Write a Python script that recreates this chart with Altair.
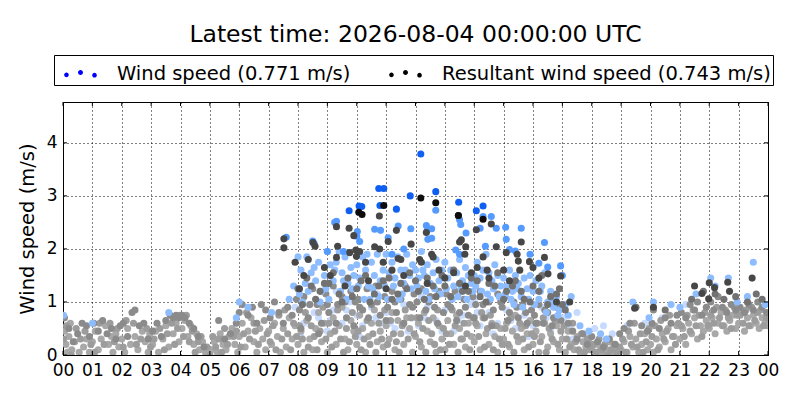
import altair as alt
import pandas as pd

# ---------------- data (hour of day, wind speed m/s) ----------------
PALE_BLUE = [(7.9,0.9),(8.2,0.6),(8.4,0.95),(8.7,0.7),(9.0,0.45),(9.2,0.85),(9.5,0.6),(9.75,1.0),(10.0,0.75),(10.2,0.55),
             (10.5,0.9),(10.8,0.6),(11.0,0.8),(11.3,0.5),(11.6,0.95),(11.9,0.7),(12.1,0.55),(12.4,0.9),(12.7,0.65),(13.0,0.85),
             (13.3,0.45),(13.6,0.75),(13.9,0.95),(14.2,0.55),(14.5,0.8),(14.8,0.6),(15.1,0.85),(15.4,0.5),(15.7,0.75),(16.0,0.55),
             (16.3,0.9),(16.6,0.45),(16.9,0.7),(17.2,0.5),(17.5,0.8),(17.8,0.35),(18.1,0.5),(18.7,0.4),(19.2,0.55),(19.8,0.6),
             (20.4,0.7),(21.2,0.95),(9.3,1.2),(10.7,1.15),(12.2,1.1),(14.0,1.05),
             (8.1,0.35),(8.55,0.8),(9.1,0.65),(9.65,0.85),(10.1,0.35),(10.65,0.7),(11.15,0.6),(11.75,0.45),(12.3,0.7),(12.9,0.45),
             (13.45,0.65),(14.1,0.8),(14.65,0.4),(15.25,0.65),(15.85,0.35),(16.45,0.7),(17.05,0.7),(17.35,0.3),(18.0,0.2),(18.4,0.55)]

LIGHT_BLUE = [(7.85,1.3),(8.0,1.85),(8.1,1.6),(8.25,1.35),(8.3,1.85),(8.45,1.55),(8.6,1.4),(8.7,1.75),(8.8,1.2),(8.9,1.5),(7.7,1.05),(8.15,1.0),
              (9.0,1.95),(9.1,1.7),(9.2,1.4),(9.3,1.75),(9.4,1.95),(9.5,1.55),(9.6,1.85),(9.7,1.35),(9.8,1.65),(9.9,1.5),(9.45,1.2),
              (10.0,1.7),(10.1,1.45),(10.2,1.85),(10.3,1.6),(10.4,1.3),(10.5,1.75),(10.6,1.5),(10.7,1.9),(10.8,1.4),(10.9,1.6),(10.45,1.05),
              (11.0,1.9),(11.1,1.55),(11.2,1.75),(11.3,1.45),(11.4,1.85),(11.5,1.6),(11.6,1.35),(11.7,1.9),(11.8,1.5),(11.9,1.7),(11.55,1.15),
              (12.0,1.6),(12.1,1.45),(12.2,1.95),(12.3,1.5),(12.4,1.7),(12.5,1.35),(12.6,1.55),(12.7,1.8),(12.8,1.4),(12.9,1.6),(12.35,1.2),
              (13.0,1.75),(13.1,1.45),(13.2,1.6),(13.3,1.3),(13.4,1.55),(13.5,1.8),(13.6,1.4),(13.7,1.65),(13.8,1.5),(13.9,1.35),(13.45,1.1),
              (14.0,1.5),(14.1,1.75),(14.2,1.45),(14.3,1.6),(14.4,1.9),(14.5,1.55),(14.6,1.4),(14.7,1.7),(14.8,1.5),(14.9,1.3),(14.45,1.15),
              (15.0,1.45),(15.1,1.3),(15.2,1.6),(15.3,1.2),(15.4,1.5),(15.5,1.35),(15.6,1.1),(15.7,1.45),(15.8,1.25),(15.9,1.5),(15.35,0.95),
              (16.0,1.2),(16.1,1.4),(16.2,1.05),(16.3,1.3),(16.4,1.55),(16.5,1.0),(16.6,1.2),(16.7,0.9),(16.8,1.1),(16.9,0.85),
              (17.1,0.95),(17.3,1.1),(17.2,0.75),(17.6,0.55),(17.9,0.45),(18.3,0.4),(18.5,0.3),(19.4,1.0),(19.95,0.7),(20.1,1.0),
              (20.7,0.95),(21.55,1.15),(22.05,1.45),(22.2,1.3),(22.65,1.45),(23.3,1.1),(23.5,1.75),(23.9,0.95),(21.0,0.9),(22.95,1.0),
              (0.02,0.75),(1.0,0.6),(3.6,0.8),(6.0,1.0),(6.3,0.9),(7.1,0.8),(5.9,0.7),
              (8.05,1.15),(8.35,1.2),(8.55,1.65),(8.75,1.0),(8.95,1.25),(9.05,1.05),(9.25,1.6),(9.55,1.4),(9.65,1.05),(9.85,1.25),
              (10.05,1.3),(10.25,1.05),(10.35,1.9),(10.55,1.25),(10.75,1.1),(10.95,1.3),(11.05,1.05),(11.25,1.3),(11.45,1.05),(11.65,1.6),
              (11.85,1.25),(12.05,1.3),(12.25,1.6),(12.45,1.05),(12.65,1.25),(12.85,1.15),(13.05,1.25),(13.25,1.05),(13.55,1.25),(13.75,1.05),
              (13.95,1.2),(14.05,1.3),(14.25,1.2),(14.55,1.05),(14.65,1.25),(14.85,1.1),(15.05,1.15),(15.25,1.05),(15.45,1.25),(15.65,0.9),
              (15.85,1.05),(16.05,0.95),(16.25,1.2),(16.45,0.8),(16.65,1.0),(16.85,0.75)]

GRAY_LIGHT = [(0.05,0.45),(0.1,0.2),(0.15,0.05),(0.2,0.35),(0.3,0.1),(0.4,0.25),(0.55,0.05),(0.7,0.15),(0.8,0.3),(0.9,0.05),(0.25,0.6),
              (1.0,0.25),(1.1,0.45),(1.2,0.1),(1.3,0.3),(1.45,0.55),(1.55,0.2),(1.7,0.05),(1.8,0.4),(1.9,0.15),(1.65,0.35),
              (2.0,0.3),(2.1,0.05),(2.2,0.5),(2.3,0.2),(2.45,0.35),(2.55,0.1),(2.7,0.45),(2.8,0.25),(2.9,0.05),(2.95,0.4),
              (3.05,0.2),(3.15,0.45),(3.25,0.05),(3.4,0.3),(3.5,0.55),(3.6,0.15),(3.75,0.4),(3.85,0.6),(3.95,0.25),
              (4.05,0.5),(4.15,0.65),(4.25,0.35),(4.35,0.55),(4.45,0.2),(4.55,0.4),(4.65,0.1),(4.75,0.25),(4.85,0.05),(4.95,0.0),
              (5.05,0.1),(5.15,0.25),(5.25,0.05),(5.35,0.4),(5.45,0.2),(5.55,0.1),(5.65,0.35),(5.75,0.5),(5.85,0.2),(5.95,0.05),
              (6.0,0.35),(6.1,0.6),(6.2,0.15),(6.3,0.45),(6.4,0.7),(6.5,0.25),(6.6,0.05),(6.7,0.5),(6.8,0.3),(6.9,0.1),
              (7.0,0.45),(7.1,0.2),(7.2,0.6),(7.3,0.35),(7.4,0.05),(7.5,0.5),(7.6,0.15),(7.7,0.7),(7.8,0.3),(7.9,0.55),
              (8.0,0.2),(8.1,0.45),(8.2,0.05),(8.3,0.65),(8.4,0.3),(8.5,0.1),(8.6,0.5),(8.7,0.8),(8.8,0.25),(8.9,0.6),
              (9.0,0.05),(9.1,0.4),(9.2,0.7),(9.3,0.2),(9.4,0.55),(9.5,0.9),(9.6,0.3),(9.7,0.1),(9.8,0.65),(9.9,0.45),
              (10.0,0.2),(10.1,0.75),(10.2,0.5),(10.3,0.05),(10.4,0.35),(10.5,0.6),(10.6,0.85),(10.7,0.25),(10.8,0.45),(10.9,0.15),
              (11.0,0.55),(11.1,0.3),(11.2,0.8),(11.3,0.1),(11.4,0.65),(11.5,0.4),(11.6,0.2),(11.7,0.7),(11.8,0.5),(11.9,0.05),
              (12.0,0.35),(12.1,0.6),(12.2,0.15),(12.3,0.8),(12.4,0.45),(12.5,0.25),(12.6,0.7),(12.7,0.05),(12.8,0.55),(12.9,0.3),
              (13.0,0.1),(13.1,0.65),(13.2,0.4),(13.3,0.2),(13.4,0.75),(13.5,0.5),(13.6,0.3),(13.7,0.15),(13.8,0.6),(13.9,0.35),
              (14.0,0.25),(14.1,0.55),(14.2,0.1),(14.3,0.7),(14.4,0.4),(14.5,0.2),(14.6,0.6),(14.7,0.35),(14.8,0.05),(14.9,0.5),
              (15.0,0.3),(15.1,0.6),(15.2,0.15),(15.3,0.45),(15.4,0.75),(15.5,0.25),(15.6,0.5),(15.7,0.1),(15.8,0.4),(15.9,0.65),
              (16.0,0.2),(16.1,0.45),(16.2,0.05),(16.3,0.35),(16.4,0.6),(16.5,0.15),(16.6,0.4),(16.7,0.25),(16.8,0.55),(16.9,0.1),
              (17.0,0.3),(17.1,0.05),(17.2,0.45),(17.3,0.2),(17.4,0.1),(17.5,0.35),(17.6,0.05),(17.7,0.25),(17.8,0.15),(17.9,0.3),
              (18.0,0.1),(18.1,0.2),(18.2,0.05),(18.3,0.15),(18.4,0.0),(18.5,0.1),(18.6,0.25),(18.7,0.05),(18.8,0.15),(18.9,0.0),
              (19.0,0.1),(19.1,0.25),(19.2,0.05),(19.3,0.35),(19.4,0.15),(19.5,0.3),(19.6,0.05),(19.7,0.2),(19.8,0.4),(19.9,0.1),
              (20.0,0.2),(20.1,0.05),(20.2,0.3),(20.3,0.15),(20.4,0.4),(20.5,0.25),(20.6,0.5),(20.7,0.1),(20.8,0.35),(20.9,0.55),
              (21.0,0.3),(21.1,0.5),(21.2,0.2),(21.3,0.6),(21.4,0.4),(21.5,0.7),(21.6,0.3),(21.7,0.55),(21.8,0.45),(21.9,0.65),
              (22.0,0.5),(22.1,0.7),(22.2,0.4),(22.3,0.6),(22.4,0.8),(22.5,0.55),(22.6,0.45),(22.7,0.65),(22.8,0.75),(22.9,0.5),
              (23.0,0.6),(23.1,0.8),(23.2,0.45),(23.3,0.7),(23.4,0.55),(23.5,0.75),(23.6,0.6),(23.7,0.5),(23.8,0.7),(23.9,0.6),(23.98,0.55)]

GRAY_EXTRA = [(0.02,0.3),(0.12,0.55),(0.28,0.0),(0.45,0.5),(0.6,0.3),(0.75,0.45),(0.95,0.2),
              (1.08,0.05),(1.25,0.6),(1.4,0.2),(1.6,0.6),(1.75,0.25),(1.85,0.5),
              (2.05,0.15),(2.15,0.65),(2.4,0.6),(2.5,0.2),(2.65,0.3),(2.85,0.5),(2.98,0.15),
              (3.1,0.3),(3.3,0.5),(3.45,0.1),(3.55,0.4),(3.7,0.6),(3.8,0.2),(3.9,0.5),(3.98,0.75),
              (4.1,0.35),(4.2,0.75),(4.3,0.25),(4.4,0.45),(4.5,0.05),(4.6,0.25),(4.7,0.35),(4.9,0.15),
              (5.0,0.0),(5.1,0.35),(5.2,0.15),(5.3,0.3),(5.4,0.05),(5.5,0.5),(5.6,0.2),(5.8,0.35),(5.9,0.45),
              (6.05,0.15),(6.15,0.4),(6.25,0.8),(6.35,0.3),(6.5,0.6),(6.55,0.45),(6.65,0.2),(6.85,0.65),(6.95,0.4),
              (7.05,0.25),(7.15,0.55),(7.25,0.1),(7.35,0.75),(7.45,0.3),(7.55,0.85),(7.65,0.4),(7.75,0.1),(7.85,0.6),(7.95,0.35),
              (8.05,0.55),(8.15,0.3),(8.25,0.8),(8.35,0.15),(8.45,0.55),(8.55,0.35),(8.65,0.1),(8.75,0.45),(8.85,0.9),(8.95,0.3),
              (9.05,0.6),(9.15,0.15),(9.25,0.45),(9.35,0.85),(9.45,0.3),(9.55,0.05),(9.65,0.5),(9.75,0.25),(9.85,0.8),(9.95,0.35),
              (10.05,0.45),(10.15,0.1),(10.25,0.3),(10.35,0.65),(10.45,0.2),(10.55,0.4),(10.65,0.05),(10.75,0.6),(10.85,0.3),(10.95,0.85),
              (11.05,0.2),(11.15,0.65),(11.25,0.4),(11.35,0.25),(11.45,0.05),(11.55,0.55),(11.65,0.85),(11.75,0.3),(11.85,0.7),(11.95,0.4),
              (12.05,0.7),(12.15,0.25),(12.25,0.5),(12.35,0.05),(12.45,0.65),(12.55,0.4),(12.65,0.2),(12.75,0.85),(12.85,0.1),(12.95,0.5),
              (13.05,0.4),(13.15,0.2),(13.25,0.85),(13.35,0.55),(13.45,0.05),(13.55,0.3),(13.65,0.6),(13.75,0.4),(13.85,0.1),(13.95,0.7),
              (14.05,0.6),(14.15,0.35),(14.25,0.8),(14.35,0.15),(14.45,0.5),(14.55,0.75),(14.65,0.1),(14.75,0.55),(14.85,0.3),(14.95,0.2),
              (15.05,0.5),(15.15,0.2),(15.25,0.7),(15.35,0.05),(15.45,0.35),(15.55,0.6),(15.65,0.3),(15.75,0.55),(15.85,0.15),(15.95,0.4),
              (16.05,0.35),(16.15,0.6),(16.25,0.25),(16.35,0.7),(16.45,0.05),(16.55,0.5),(16.65,0.3),(16.75,0.65),(16.85,0.2),(16.95,0.45),
              (17.05,0.55),(17.15,0.3),(17.25,0.15),(17.35,0.6),(17.45,0.25),(17.55,0.1),(17.65,0.4),(17.75,0.05),(17.85,0.3),(17.95,0.1),
              (18.05,0.2),(18.15,0.05),(18.25,0.3),(18.35,0.1),(18.45,0.2),(18.55,0.0),(18.65,0.1),(18.75,0.2),(18.85,0.05),(18.95,0.15),
              (19.05,0.3),(19.15,0.05),(19.25,0.45),(19.35,0.2),(19.45,0.6),(19.55,0.15),(19.65,0.4),(19.75,0.05),(19.85,0.25),(19.95,0.5),
              (20.05,0.35),(20.15,0.55),(20.25,0.1),(20.35,0.65),(20.45,0.3),(20.55,0.45),(20.65,0.75),(20.75,0.35),(20.85,0.2),(20.95,0.6),
              (21.05,0.55),(21.15,0.35),(21.25,0.75),(21.35,0.45),(21.45,0.85),(21.55,0.55),(21.65,0.75),(21.75,0.35),(21.85,0.8),(21.95,0.55),
              (22.05,0.75),(22.15,0.6),(22.25,0.9),(22.35,0.7),(22.45,0.55),(22.55,0.85),(22.65,0.7),(22.75,0.5),(22.85,0.9),(22.95,0.75),
              (23.05,0.75),(23.15,0.6),(23.25,0.85),(23.35,0.55),(23.45,0.9),(23.55,0.65),(23.65,0.8),(23.75,0.85),(23.85,0.55),(23.95,0.7)]

GRAY_MID = [(0.05,0.7),(0.2,0.5),(0.35,0.25),(0.5,0.4),(0.65,0.6),(0.8,0.55),(0.9,0.35),
            (1.05,0.6),(1.2,0.45),(1.35,0.65),(1.5,0.4),(1.65,0.5),(1.8,0.3),(1.95,0.55),
            (2.05,0.6),(2.2,0.35),(2.35,0.8),(2.45,0.85),(2.6,0.55),(2.75,0.6),(2.9,0.3),
            (3.05,0.45),(3.2,0.6),(3.35,0.35),(3.5,0.65),(3.65,0.75),(3.75,0.7),(3.85,0.75),(3.95,0.7),
            (4.05,0.75),(4.15,0.7),(4.3,0.6),(4.45,0.5),(4.6,0.35),(4.8,0.15),
            (5.3,0.65),(5.5,0.3),(5.7,0.4),(5.9,0.6),
            (6.0,0.8),(6.1,0.95),(6.3,0.75),(6.45,0.9),(6.6,0.6),(6.75,0.95),(6.9,0.85),
            (7.05,0.7),(7.2,1.0),(7.35,0.8),(7.5,0.6),(7.65,0.9),(7.8,0.75),(7.95,1.05),
            (8.05,0.85),(8.2,1.1),(8.35,0.7),(8.5,1.25),(8.65,0.95),(8.8,0.6),(8.95,1.15),
            (9.05,0.8),(9.2,1.3),(9.35,0.95),(9.5,1.1),(9.65,0.7),(9.8,1.2),(9.95,1.0),
            (10.05,1.05),(10.2,0.85),(10.35,1.25),(10.5,0.95),(10.65,1.3),(10.8,0.75),(10.95,1.1),
            (11.05,0.9),(11.2,1.2),(11.35,0.8),(11.5,1.05),(11.65,1.3),(11.8,0.95),(11.95,1.15),
            (12.05,1.0),(12.2,1.25),(12.35,0.85),(12.5,1.1),(12.65,0.9),(12.8,1.2),(12.95,0.8),
            (13.05,1.15),(13.2,0.9),(13.35,1.2),(13.5,0.8),(13.65,1.05),(13.8,0.75),(13.95,1.1),
            (14.05,0.95),(14.2,1.2),(14.35,0.7),(14.5,1.0),(14.65,0.85),(14.8,1.15),(14.95,0.9),
            (15.05,1.1),(15.2,0.8),(15.35,1.0),(15.5,0.7),(15.65,0.95),(15.8,0.6),(15.95,0.85),
            (16.05,0.75),(16.2,0.95),(16.35,0.6),(16.5,0.8),(16.65,0.55),(16.8,0.9),(16.95,0.65),
            (17.05,0.9),(17.2,0.6),(17.35,0.45),(17.5,0.3),(17.7,0.4),(17.85,0.2),
            (18.0,0.35),(18.2,0.25),(18.4,0.15),(18.6,0.3),(18.8,0.2),(18.95,0.4),
            (19.1,0.5),(19.3,0.6),(19.5,0.9),(19.7,0.55),(19.9,0.45),
            (20.05,0.6),(20.1,0.85),(20.3,0.5),(20.5,0.7),(20.7,0.6),(20.9,0.75),
            (21.05,0.8),(21.2,0.7),(21.35,0.95),(21.5,0.85),(21.6,1.0),(21.75,0.75),(21.9,0.9),
            (22.05,1.0),(22.15,0.85),(22.3,1.1),(22.45,0.9),(22.6,0.8),(22.75,0.95),(22.9,0.85),
            (23.05,0.9),(23.2,0.8),(23.35,0.95),(23.5,0.85),(23.65,1.0),(23.8,0.9),(23.95,0.8),
            (8.1,0.5),(8.4,0.95),(8.7,0.4),(9.0,0.95),(9.3,0.6),(9.6,1.0),(9.9,0.55),(10.1,0.9),(10.4,0.7),(10.7,1.0),
            (11.0,0.65),(11.3,1.0),(11.6,0.6),(11.9,0.9),(12.15,0.7),(12.45,1.0),(12.75,0.6),(13.1,0.95),(13.4,0.65),(13.7,0.9),
            (14.0,0.7),(14.3,0.95),(14.6,0.55),(14.9,1.0),(15.15,0.65),(15.45,0.9),(15.75,0.8),(16.1,0.6),(16.4,0.85),(16.7,0.7)]

GRAY_DIM = [(8.0,1.25),(8.3,1.45),(8.6,1.05),(8.9,1.35),(9.2,1.55),(9.5,1.0),(9.7,1.45),(10.0,1.25),(10.3,1.5),(10.6,1.15),
            (10.9,1.4),(11.2,1.05),(11.5,1.35),(11.8,1.55),(12.1,1.2),(12.4,1.45),(12.7,1.1),(13.0,1.3),(13.3,1.6),(13.6,1.2),
            (13.9,1.45),(14.2,1.1),(14.5,1.35),(14.8,1.55),(15.1,1.2),(15.4,1.4),(15.7,1.05),(16.0,1.3),(16.3,1.5),(16.6,1.1),
            (16.9,1.25),(17.1,0.85),(21.4,1.05),(21.8,1.2),(22.2,1.15),(22.5,1.05),(22.9,1.1),(23.3,1.0),(23.6,1.15),(23.8,1.05),
            (20.5,0.85),(19.5,0.9),
            (8.15,0.95),(8.45,1.3),(8.75,1.2),(9.05,1.35),(9.4,1.15),(9.85,1.1),(10.15,1.4),(10.45,1.0),(10.75,1.3),(11.1,1.45),
            (11.4,1.15),(11.7,1.25),(12.0,1.4),(12.3,1.05),(12.6,1.3),(12.9,1.5),(13.2,1.1),(13.5,1.35),(13.8,1.2),(14.1,1.4),
            (14.4,1.0),(14.7,1.3),(15.0,1.05),(15.3,1.3),(15.6,1.2),(15.9,1.0),(16.2,1.2),(16.5,0.95),(16.8,1.15),(17.0,0.95)]

BLUE = [(9.31,2.52),(9.25,2.5),(8.5,2.15),(10.61,2.37),(10.81,2.35),(11.07,2.21),(11.41,2.43),(11.84,2.38),(12.37,2.44),
        (12.55,2.38),(12.55,2.2),(10.1,2.14),(10.02,2.33),(10.0,2.24),(12.69,2.73),(14.3,2.61),(14.58,2.61),(13.5,2.55),
        (13.54,2.46),(14.2,2.39),(14.75,2.39),(15.07,2.41),(15.6,2.39),(15.09,2.18),(16.39,2.12),(13.72,2.3),(12.4,2.35),
        (12.42,2.18),(13.37,1.98),(13.5,1.9),(14.38,2.05),(15.2,1.99),(15.4,1.96),(15.9,1.9),(16.2,1.73),(16.5,1.66),
        (16.94,1.68),(7.6,2.22),(8.55,2.1),(9.0,1.95),(9.55,1.95),(11.6,2.0),(11.2,1.9),(17.0,1.5)]

GRAY_DARK = [(7.52,2.19),(7.52,2.02),(8.51,2.12),(8.58,2.05),(8.2,1.5),(7.9,1.75),(8.05,1.25),(8.35,1.8),(8.9,1.65),(9.1,1.5),
             (9.31,2.42),(9.31,1.84),(9.35,2.05),(9.6,1.3),(9.74,2.39),(9.9,2.25),(9.76,1.93),(9.97,1.98),(9.99,1.86),(10.1,1.95),
             (10.3,1.75),(10.4,1.4),(10.61,2.04),(10.78,2.0),(10.77,2.62),(10.9,1.75),(11.07,2.14),(11.0,1.25),(11.2,1.6),
             (11.35,2.35),(11.41,1.82),(11.5,1.8),(11.6,1.5),(11.85,2.09),(12.14,1.8),(12.37,2.31),(12.2,1.75),(12.4,1.35),
             (12.55,1.9),(12.6,1.85),(12.8,1.6),(13.0,1.45),(13.3,1.55),(13.46,2.63),(13.56,2.17),(13.5,2.13),(13.71,2.04),
             (13.68,1.9),(13.7,1.3),(14.07,2.36),(14.1,1.65),(14.3,1.85),(14.58,2.47),(14.5,1.45),(14.75,2.04),(15.09,1.93),
             (15.0,1.6),(15.2,1.4),(15.46,1.9),(15.6,2.13),(15.5,1.77),(15.55,1.6),(15.88,1.76),(16.0,1.65),(16.39,1.84),
             (16.2,1.45),(16.51,1.53),(16.94,1.49),(14.44,1.6),(13.9,1.55),(16.8,1.0),(17.25,1.0),
             (21.5,1.3),(22.0,1.36),(22.18,1.27),(22.63,1.37),(22.69,1.2),(23.46,1.45),(21.75,1.16),(21.98,1.06),
             (19.46,0.88),(20.1,0.9)]

BLUE_STRONG = [(12.18,3.79),(10.75,3.14),(10.92,3.14),(12.69,3.08),(11.82,3.0),(13.47,2.88),(14.3,2.81),(14.07,2.72),
               (10.08,2.81),(10.17,2.8),(9.74,2.72),(10.79,2.82),(11.35,2.75)]

BLACK = [(12.18,2.96),(12.69,2.87),(10.92,2.82),(10.07,2.69),(10.18,2.65),(13.46,2.63),(14.3,2.56)]

# drawing order: first entry is drawn at the back
GROUPS = [("pale_blue", PALE_BLUE, "#c6dbff"),
          ("gray_light", GRAY_LIGHT, "#a8a8a8"),
          ("gray_extra", GRAY_EXTRA, "#9c9c9c"),
          ("gray_mid", GRAY_MID, "#8b8b8b"),
          ("light_blue", LIGHT_BLUE, "#8dbdff"),
          ("gray_dim", GRAY_DIM, "#727272"),
          ("blue", BLUE, "#559bff"),
          ("gray_dark", GRAY_DARK, "#474747"),
          ("blue_strong", BLUE_STRONG, "#0f5ff2"),
          ("black", BLACK, "#0d0d0d")]

LEGEND_LABELS = ["Wind speed (0.771 m/s)", "Resultant wind speed (0.743 m/s)"]
LEGEND_COLORS = ["#0000ff", "#000000"]
TITLE = "Latest time: 2026-08-04 00:00:00 UTC"
Y_TITLE = "Wind speed (m/s)"
X_TICKS = list(range(25))
Y_TICKS = [0, 1, 2, 3, 4]

W, H = 705, 253
TICK_LEN = 4

rows = []
for rank, (name, pts, _) in enumerate(GROUPS):
    for h, v in pts:
        rows.append({"hour": h, "speed": v, "group": name, "rank": rank})
df = pd.DataFrame(rows)

FONT = "DejaVu Sans"
X_SCALE = alt.Scale(domain=[0, 24], nice=False, zero=False)
Y_SCALE = alt.Scale(domain=[0, 4.77], nice=False)
X_AXIS = alt.Axis(values=X_TICKS, title=None, grid=True, ticks=False, labelPadding=7,
                  labelExpr="datum.value == 24 ? '00' : (datum.value < 10 ? '0' + datum.value : '' + datum.value)",
                  labelFlush=False, labelOverlap=False, domain=False)
Y_AXIS = alt.Axis(values=Y_TICKS, title=Y_TITLE, grid=True, ticks=False, labelPadding=6, format="d",
                  labelFlush=False, labelOverlap=False, domain=False, titlePadding=9)

points = alt.Chart(df).mark_circle(size=50, opacity=1, clip=True).encode(
    x=alt.X("hour:Q", scale=X_SCALE, axis=X_AXIS),
    y=alt.Y("speed:Q", scale=Y_SCALE, axis=Y_AXIS),
    color=alt.Color("group:N", scale=alt.Scale(domain=[g[0] for g in GROUPS], range=[g[2] for g in GROUPS]), legend=None),
    order=alt.Order("rank:Q"),
)

# inward tick marks on all four sides (matplotlib classic look)
xt = pd.DataFrame({"hour": X_TICKS})
yt = pd.DataFrame({"speed": Y_TICKS})
tick_bottom = alt.Chart(xt).mark_rule(color="black", strokeWidth=1).encode(
    x=alt.X("hour:Q", scale=X_SCALE, axis=X_AXIS), y=alt.value(H), y2=alt.value(H - TICK_LEN))
tick_top = alt.Chart(xt).mark_rule(color="black", strokeWidth=1).encode(
    x=alt.X("hour:Q", scale=X_SCALE, axis=X_AXIS), y=alt.value(0), y2=alt.value(TICK_LEN))
tick_left = alt.Chart(yt).mark_rule(color="black", strokeWidth=1).encode(
    y=alt.Y("speed:Q", scale=Y_SCALE, axis=Y_AXIS), x=alt.value(0), x2=alt.value(TICK_LEN))
tick_right = alt.Chart(yt).mark_rule(color="black", strokeWidth=1).encode(
    y=alt.Y("speed:Q", scale=Y_SCALE, axis=Y_AXIS), x=alt.value(W), x2=alt.value(W - TICK_LEN))

# three-dot legend symbol (like matplotlib scatter legend handle)
def dot(cx, cy, r):
    return f"M{cx - r},{cy} A{r},{r} 0 1,0 {cx + r},{cy} A{r},{r} 0 1,0 {cx - r},{cy} Z "

THREE_DOTS = dot(-0.85, 0.08, 0.14) + dot(0.0, -0.06, 0.15) + dot(0.85, 0.1, 0.14)

leg_df = pd.DataFrame({"series": LEGEND_LABELS})
legend_layer = alt.Chart(leg_df).mark_point(filled=True, opacity=0, size=1).encode(
    x=alt.value(5), y=alt.value(5),
    fill=alt.Fill("series:N", scale=alt.Scale(domain=LEGEND_LABELS, range=LEGEND_COLORS),
                  legend=alt.Legend(title=None, orient="none", direction="horizontal",
                                    legendX=-9, legendY=-47, padding=2,
                                    strokeColor="black", fillColor="white", cornerRadius=0,
                                    symbolType=THREE_DOTS, symbolSize=1089, symbolOpacity=1,
                                    symbolStrokeWidth=0, symbolOffset=8, labelLimit=600,
                                    labelFont=FONT, labelFontSize=19.5, labelColor="black",
                                    labelOffset=20, columnPadding=30)),
)

chart = alt.layer(points, tick_bottom, tick_top, tick_left, tick_right, legend_layer).properties(
    width=W, height=H,
    autosize="none",
    padding={"left": 55, "top": 94, "right": 20, "bottom": 35},
    title=alt.TitleParams(TITLE, font=FONT, fontSize=23.5, fontWeight="normal", color="black",
                          anchor="middle", offset=8),
    background="white",
).configure_view(
    stroke="black", strokeWidth=1
).configure_axis(
    labelFont=FONT, labelFontSize=17, labelColor="black",
    titleFont=FONT, titleFontSize=19.5, titleColor="black", titleFontWeight="normal",
    gridColor="black", gridDash=[1, 3], gridOpacity=1, gridWidth=1,
)

chart.save("out.html", embed_options={"renderer": "svg", "actions": False})
